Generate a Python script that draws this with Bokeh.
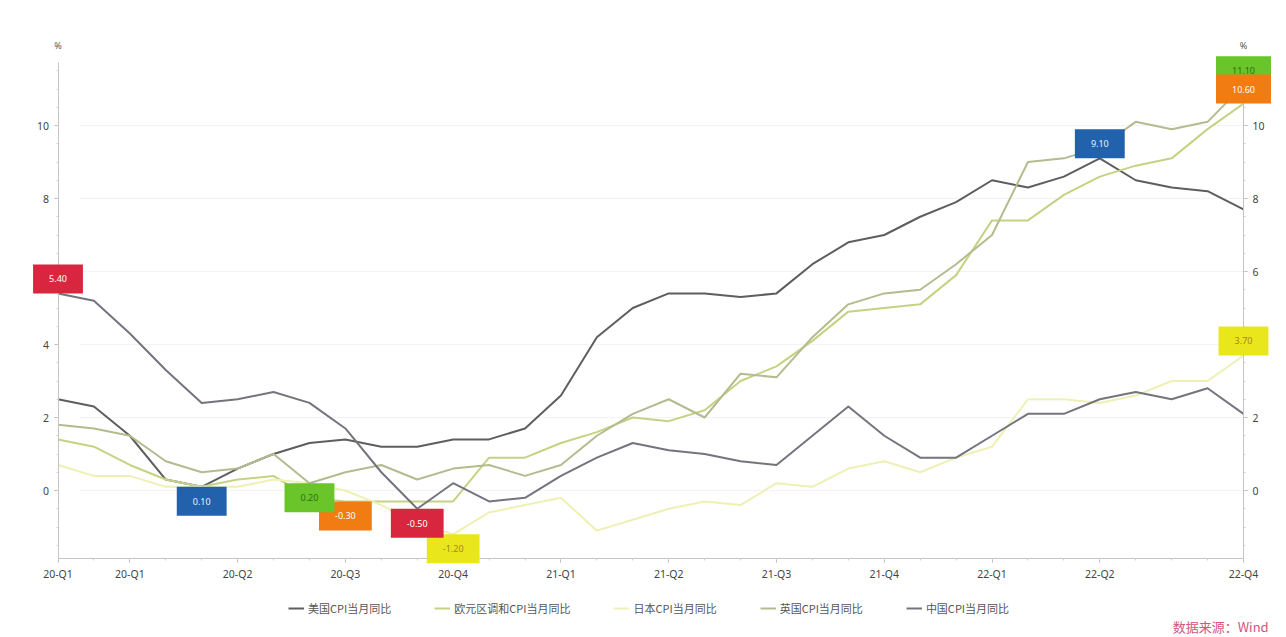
from bokeh.plotting import figure
from bokeh.models import (LinearAxis, FixedTicker, Legend, LegendItem, Label, Range1d,
                          ColumnDataSource)
from bokeh.embed import file_html
from bokeh.resources import INLINE

# Monthly CPI year-on-year (%), Jan 2020 – Oct 2022
months = [f"{y}-{m:02d}" for y in (2020, 2021, 2022) for m in range(1, 13)][:34]

us_cpi = [2.5, 2.3, 1.5, 0.3, 0.1, 0.6, 1.0, 1.3, 1.4, 1.2, 1.2, 1.4,
          1.4, 1.7, 2.6, 4.2, 5.0, 5.4, 5.4, 5.3, 5.4, 6.2, 6.8, 7.0,
          7.5, 7.9, 8.5, 8.3, 8.6, 9.1, 8.5, 8.3, 8.2, 7.7]
ez_hicp = [1.4, 1.2, 0.7, 0.3, 0.1, 0.3, 0.4, -0.2, -0.3, -0.3, -0.3, -0.3,
           0.9, 0.9, 1.3, 1.6, 2.0, 1.9, 2.2, 3.0, 3.4, 4.1, 4.9, 5.0,
           5.1, 5.9, 7.4, 7.4, 8.1, 8.6, 8.9, 9.1, 9.9, 10.6]
jp_cpi = [0.7, 0.4, 0.4, 0.1, 0.1, 0.1, 0.3, 0.2, 0.0, -0.4, -0.9, -1.2,
          -0.6, -0.4, -0.2, -1.1, -0.8, -0.5, -0.3, -0.4, 0.2, 0.1, 0.6, 0.8,
          0.5, 0.9, 1.2, 2.5, 2.5, 2.4, 2.6, 3.0, 3.0, 3.7]
uk_cpi = [1.8, 1.7, 1.5, 0.8, 0.5, 0.6, 1.0, 0.2, 0.5, 0.7, 0.3, 0.6,
          0.7, 0.4, 0.7, 1.5, 2.1, 2.5, 2.0, 3.2, 3.1, 4.2, 5.1, 5.4,
          5.5, 6.2, 7.0, 9.0, 9.1, 9.4, 10.1, 9.9, 10.1, 11.1]
cn_cpi = [5.4, 5.2, 4.3, 3.3, 2.4, 2.5, 2.7, 2.4, 1.7, 0.5, -0.5, 0.2,
          -0.3, -0.2, 0.4, 0.9, 1.3, 1.1, 1.0, 0.8, 0.7, 1.5, 2.3, 1.5,
          0.9, 0.9, 1.5, 2.1, 2.1, 2.5, 2.7, 2.5, 2.8, 2.1]

series_names = ["美国CPI当月同比", "欧元区调和CPI当月同比", "日本CPI当月同比",
                "英国CPI当月同比", "中国CPI当月同比"]
series_values = [us_cpi, ez_hicp, jp_cpi, uk_cpi, cn_cpi]

tick_months = ["2020-01", "2020-03", "2020-06", "2020-09", "2020-12", "2021-03",
               "2021-06", "2021-09", "2021-12", "2022-03", "2022-06", "2022-10"]
tick_labels = ["20-Q1", "20-Q1", "20-Q2", "20-Q3", "20-Q4", "21-Q1",
               "21-Q2", "21-Q3", "21-Q4", "22-Q1", "22-Q2", "22-Q4"]
y_ticks = [0, 2, 4, 6, 8, 10]

# styling
line_colors = ["#5e5e5e", "#c6d283", "#eef0b4", "#b4bb8e", "#74747e"]
badge_colors = ["#2262ad", "#f07c12", "#e9e61c", "#6ac52a", "#d8263f"]
badge_text = ["#e8f0ff", "#ffffff", "#a8861a", "#2f6e10", "#ffffff"]

x = list(range(len(months)))
last = len(months) - 1
y_lo, y_hi = -1.86, 11.73   # extent of the value axes

# the frame fills the whole canvas; axes sit at fixed data locations inside it
px_per_month = 1185.5 / last
px_per_unit = 36.5
p = figure(width=1286, height=637, output_backend="svg", toolbar_location=None,
           title=None, x_axis_type=None, y_axis_type=None,
           x_range=Range1d(-57.5 / px_per_month, last + 43 / px_per_month),
           y_range=Range1d(-147 / px_per_unit, 490 / px_per_unit),
           min_border=0, min_border_left=0, min_border_right=0,
           min_border_top=0, min_border_bottom=0,
           background_fill_color="white", border_fill_color="white")
p.outline_line_color = None

xpos = [months.index(m) for m in tick_months]
xa = LinearAxis(ticker=FixedTicker(ticks=xpos, minor_ticks=x), fixed_location=y_lo,
                bounds=(0, last))
xa.major_label_overrides = {pos: lab for pos, lab in zip(xpos, tick_labels)}
p.add_layout(xa, "below")

minor_y = [v / 2 for v in range(-3, 24)]
ya = LinearAxis(ticker=FixedTicker(ticks=y_ticks, minor_ticks=minor_y), fixed_location=0,
                bounds=(y_lo, y_hi))
ra = LinearAxis(ticker=FixedTicker(ticks=y_ticks, minor_ticks=minor_y), fixed_location=last,
                bounds=(y_lo, y_hi))
p.add_layout(ya, "left")
p.add_layout(ra, "right")

for ax in (xa, ya, ra):
    ax.axis_line_color = "#c4c4c4"
    ax.major_tick_line_color = "#b8b8b8"
    ax.minor_tick_line_color = "#d0d0d0"
    ax.major_tick_out = 4
    ax.major_tick_in = 0
    ax.minor_tick_out = 2
    ax.minor_tick_in = 0
    ax.major_label_text_font = "Noto Sans"
    ax.major_label_text_font_size = "10.5px"
    ax.major_label_text_color = "#444444"
    ax.major_label_standoff = 5

# faint horizontal guides at the major ticks
p.segment(x0=[0.6] * len(y_ticks), x1=[last] * len(y_ticks), y0=y_ticks, y1=y_ticks,
          line_color="#f3f3f3", line_width=1)

renderers = []
for name, vals, col in zip(series_names, series_values, line_colors):
    src = ColumnDataSource(dict(x=x, y=vals))
    r = p.line("x", "y", source=src, line_color=col, line_width=2, line_join="round")
    renderers.append((name, r))


def badge(i_s, fn, anchor):
    vals = series_values[i_s]
    v = fn(vals)
    i = vals.index(v)
    p.add_layout(Label(x=x[i], y=v, text=f"{v:.2f}", anchor=anchor,
                       text_align="center", text_baseline="middle",
                       text_font="Noto Sans", text_font_size="9px", text_color=badge_text[i_s],
                       background_fill_color=badge_colors[i_s], background_fill_alpha=1.0,
                       padding=(16, 11)))


# max / min badges (eurozone peak drawn over the UK one)
for i_s in range(len(series_values)):
    badge(i_s, min, "top_center")
for i_s in (0, 2, 4, 3, 1):
    badge(i_s, max, "bottom_center")

# unit marks above both value axes
for xv in (0, last):
    p.add_layout(Label(x=xv, y=12.2, text="%", text_align="center", text_baseline="middle",
                       text_font="Noto Sans", text_font_size="9px", text_color="#555555"))

p.add_layout(Label(x=last + 0.7, y=-3.72, text="数据来源：Wind", text_align="right",
                   text_baseline="middle", text_font="Noto Sans CJK SC",
                   text_font_size="13px", text_color="#d2567e"))

legend = Legend(items=[LegendItem(label=n, renderers=[r]) for n, r in renderers],
                orientation="horizontal", location=(288, 21),
                label_text_font="Noto Sans CJK SC", label_text_font_size="11px",
                label_text_color="#555555", glyph_width=16, glyph_height=14,
                label_standoff=4, spacing=43, padding=0, margin=0,
                border_line_color=None, background_fill_alpha=0)
p.add_layout(legend)

open("out.html", "w").write(file_html(p, INLINE))
